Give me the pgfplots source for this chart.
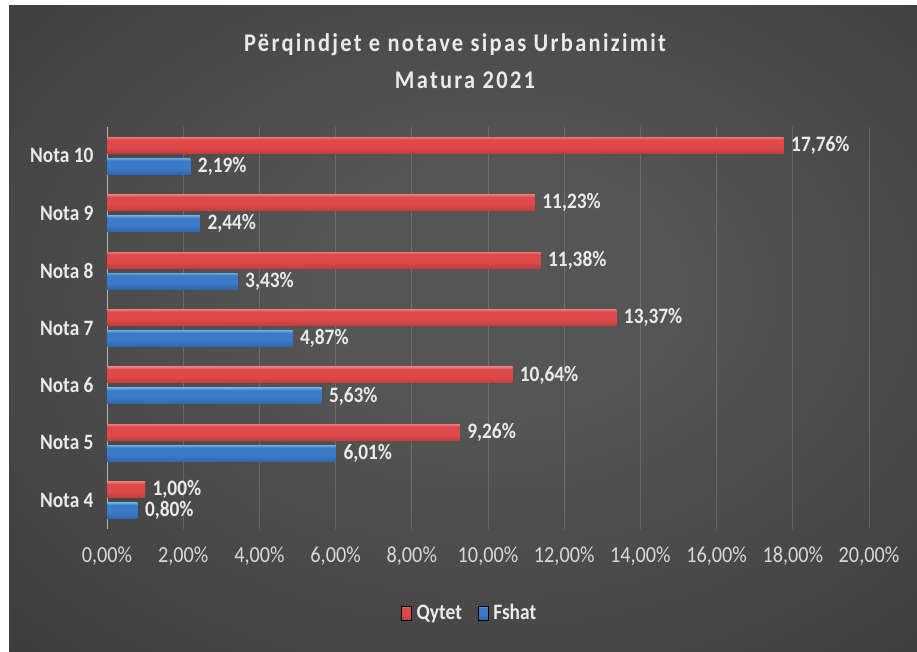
\documentclass[border=0pt]{standalone}
\usepackage{pgfplots}
\pgfplotsset{compat=1.18}
\usepackage{fontspec}
\setmainfont{Carlito}[FakeStretch=0.88]
\definecolor{bgin}{HTML}{555555}
\definecolor{bgout}{HTML}{1F1F1F}
\definecolor{lbl}{HTML}{EAEAEA}
\definecolor{tlbl}{HTML}{D8D8D8}
\definecolor{rA}{HTML}{7E1E1E}
\definecolor{rB}{HTML}{C03A3A}
\definecolor{rC}{HTML}{DE4A4A}
\definecolor{rD}{HTML}{F49595}
\definecolor{rE}{HTML}{B83838}
\definecolor{bA}{HTML}{183A6C}
\definecolor{bB}{HTML}{2D63AA}
\definecolor{bC}{HTML}{3C7BC8}
\definecolor{bD}{HTML}{8CC3F2}
\definecolor{bE}{HTML}{2E5E9E}
\pgfdeclareradialshading{bgshade}{\pgfpoint{2bp}{4bp}}{color(0bp)=(bgin); color(10bp)=(bgin); color(72bp)=(bgout)}
\pgfdeclareverticalshading{redbar}{100bp}{color(0bp)=(rA); color(22bp)=(rB); color(45bp)=(rC); color(68bp)=(rC); color(80bp)=(rD); color(90bp)=(rC); color(100bp)=(rE)}
\pgfdeclareverticalshading{bluebar}{100bp}{color(0bp)=(bA); color(22bp)=(bB); color(45bp)=(bC); color(68bp)=(bC); color(80bp)=(bD); color(90bp)=(bC); color(100bp)=(bE)}
\begin{document}
\begin{tikzpicture}[x=1pt,y=1pt]
\useasboundingbox (0,0) rectangle (917,651);
\fill[white] (0,0) rectangle (917,651);
\shade[shading=bgshade] (9,-6) rectangle (923,645);
\node[font=\fontsize{25.5}{30}\selectfont\bfseries\addfontfeatures{LetterSpace=9}, text=lbl] at (455,606) {Përqindjet e notave sipas Urbanizimit};
\node[font=\fontsize{25.5}{30}\selectfont\bfseries\addfontfeatures{LetterSpace=9}, text=lbl] at (465,571) {Matura 2021};
\begin{axis}[
  at={(107pt,122pt)}, anchor=south west,
  scale only axis, width=762pt, height=402pt,
  xmin=0, xmax=20, ymin=-0.5, ymax=6.5,
  xtick={0,2,4,6,8,10,12,14,16,18,20},
  ytick={0,1,2,3,4,5,6},
  yticklabels={Nota 4,Nota 5,Nota 6,Nota 7,Nota 8,Nota 9,Nota 10},
  /pgf/number format/assume math mode=true,
  xticklabel={\pgfmathprintnumber[fixed,fixed zerofill,precision=2,use comma]{\tick}\%},
  xticklabel style={font=\fontsize{23}{27}\selectfont, text=tlbl, yshift=-14pt},
  yticklabel style={font=\fontsize{22}{26}\selectfont\bfseries, text=lbl, xshift=-10pt},
  axis line style={draw=none},
  major tick length=0pt,
  xmajorgrids, major grid style={draw=white, opacity=0.15, line width=0.8pt},
  xbar, bar width=16pt,
  nodes near coords={\pgfmathprintnumber[fixed,fixed zerofill,precision=2,use comma]{\pgfplotspointmeta}\%},
  nodes near coords style={font=\fontsize{22}{26}\selectfont\bfseries, text=lbl, anchor=west, xshift=4pt},
  legend style={at={(0.476,-0.209)}, anchor=center, draw=none, fill=none,
    font=\fontsize{22}{26}\selectfont\bfseries, text=lbl,
    /tikz/every odd column/.append style={column sep=3pt},
    /tikz/every even column/.append style={column sep=14pt}},
  legend columns=-1,
  legend image code/.code={\fill[#1] (0pt,-7pt) rectangle (10pt,7pt);},
  qy/.style={shading=redbar, draw=none, bar shift=10.5pt, point meta=x, forget plot},
  fs/.style={shading=bluebar, draw=none, bar shift=-10.5pt, point meta=x, forget plot},
]
\draw[color=white!70!black, line width=1.2pt] (axis cs:0,-0.5) -- (axis cs:0,6.5);
% Qytet
\addplot[qy] coordinates {(1.00,0)};
\addplot[qy] coordinates {(9.26,1)};
\addplot[qy] coordinates {(10.64,2)};
\addplot[qy] coordinates {(13.37,3)};
\addplot[qy] coordinates {(11.38,4)};
\addplot[qy] coordinates {(11.23,5)};
\addplot[qy] coordinates {(17.76,6)};
% Fshat
\addplot[fs] coordinates {(0.80,0)};
\addplot[fs] coordinates {(6.01,1)};
\addplot[fs] coordinates {(5.63,2)};
\addplot[fs] coordinates {(4.87,3)};
\addplot[fs] coordinates {(3.43,4)};
\addplot[fs] coordinates {(2.44,5)};
\addplot[fs] coordinates {(2.19,6)};
\addlegendimage{shading=redbar}
\addlegendentry{Qytet}
\addlegendimage{shading=bluebar}
\addlegendentry{Fshat}
\end{axis}
\end{tikzpicture}
\end{document}
